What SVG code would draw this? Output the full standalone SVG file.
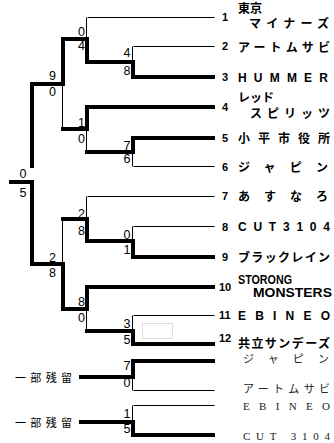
<svg xmlns="http://www.w3.org/2000/svg" width="334" height="443" viewBox="0 0 334 443">
<style>
.tk{stroke:#000;stroke-width:4;fill:none;stroke-linecap:square}
.tn{stroke:#000;stroke-width:1;fill:none}
.sc{font-family:"Liberation Sans",Arial,sans-serif;font-size:12.5px;fill:#000;text-anchor:end}
.no{font-family:"Liberation Sans",Arial,sans-serif;font-size:11px;font-weight:bold;fill:#000}
.nm{font-family:"Liberation Sans","Noto Sans CJK JP",sans-serif;font-size:12px;font-weight:bold;fill:#000}
.sub{font-family:"Liberation Serif","Noto Sans CJK JP",serif;font-size:11px;fill:#222}
.rs{font-family:"Noto Sans CJK JP",sans-serif;font-size:11px;fill:#000}
</style>
<rect width="334" height="443" fill="#fff"/>
<g id="connectors">
<g transform="translate(0.5,0.5)">
<path class="tn" d="M87 17H214"/>
<path class="tn" d="M133 46H214"/>
<path class="tn" d="M133 166H214"/>
<path class="tn" d="M87 196H214"/>
<path class="tn" d="M133 226H214"/>
<path class="tn" d="M133 315H214"/>
<path class="tn" d="M133 390H214"/>
<path class="tn" d="M133 405H214"/>
<path class="tn" d="M132 46V62"/>
<path class="tn" d="M86 17V39"/>
<path class="tn" d="M132 152V166"/>
<path class="tn" d="M86 129V152"/>
<path class="tn" d="M62 84V129"/>
<path class="tn" d="M132 226V241"/>
<path class="tn" d="M86 196V219"/>
<path class="tn" d="M132 315V331"/>
<path class="tn" d="M86 309V331"/>
<path class="tn" d="M62 219V264"/>
<path class="tn" d="M132 377V390"/>
<path class="tn" d="M132 405V422"/>
</g>
<path class="tk" d="M133 77H213"/>
<path class="tk" d="M87 107H213"/>
<path class="tk" d="M133 138H213"/>
<path class="tk" d="M133 257H213"/>
<path class="tk" d="M87 287H213"/>
<path class="tk" d="M133 344H213"/>
<path class="tk" d="M133 62V77"/><path class="tk" d="M87 62H133"/>
<path class="tk" d="M87 39V62"/><path class="tk" d="M63 39H87"/>
<path class="tk" d="M133 138V152"/><path class="tk" d="M87 152H133"/>
<path class="tk" d="M87 107V129"/><path class="tk" d="M63 129H87"/>
<path class="tk" d="M63 39V84"/><path class="tk" d="M32 84H63"/>
<path class="tk" d="M133 241V257"/><path class="tk" d="M87 241H133"/>
<path class="tk" d="M87 219V241"/><path class="tk" d="M63 219H87"/>
<path class="tk" d="M133 331V344"/><path class="tk" d="M87 331H133"/>
<path class="tk" d="M87 287V309"/><path class="tk" d="M63 309H87"/>
<path class="tk" d="M63 264V309"/><path class="tk" d="M32 264H63"/>
<path class="tk" d="M32 84V166"/><path class="tk" d="M32 182V264"/><path class="tk" d="M11 182H32"/>
<path class="tk" d="M133 361H213"/>
<path class="tk" d="M133 361V377"/><path class="tk" d="M81 377H133"/>
<path class="tk" d="M133 435H213"/>
<path class="tk" d="M133 422V435"/><path class="tk" d="M81 422H133"/>
<rect x="142.5" y="323.5" width="30" height="15" fill="none" stroke="#ddd" stroke-width="1"/>
</g>
<g id="scores">
<text class="sc" x="130.5" y="57">4</text><text class="sc" x="130.5" y="75">8</text>
<text class="sc" x="85" y="36">0</text><text class="sc" x="85" y="50">4</text>
<text class="sc" x="56" y="80">9</text><text class="sc" x="56" y="96">0</text>
<text class="sc" x="85" y="127">1</text><text class="sc" x="85" y="143">0</text>
<text class="sc" x="130.5" y="150">7</text><text class="sc" x="130.5" y="163">6</text>
<text class="sc" x="26.5" y="178">0</text><text class="sc" x="26.5" y="197">5</text>
<text class="sc" x="85" y="218">2</text><text class="sc" x="85" y="235">8</text>
<text class="sc" x="130.5" y="239">0</text><text class="sc" x="130.5" y="254">1</text>
<text class="sc" x="56" y="262">2</text><text class="sc" x="56" y="277">8</text>
<text class="sc" x="85" y="306">8</text><text class="sc" x="85" y="322">0</text>
<text class="sc" x="130.5" y="328">3</text><text class="sc" x="130.5" y="344">5</text>
<text class="sc" x="130.5" y="370">7</text><text class="sc" x="130.5" y="387">0</text>
<text class="sc" x="130.5" y="418">1</text><text class="sc" x="130.5" y="433">5</text>
</g>
<g id="team1"><text class="no" x="222" y="21">1</text><text class="nm" x="238" y="13">東京</text><text class="nm" x="249" y="28" textLength="80" lengthAdjust="spacing">マイナーズ</text></g>
<g id="team2"><text class="no" x="222" y="50">2</text><text class="nm" x="238" y="52" textLength="92" lengthAdjust="spacing">アートムサビ</text></g>
<g id="team3"><text class="no" x="222" y="81">3</text><text class="nm" x="238" y="82" textLength="90" lengthAdjust="spacing">HUMMER</text></g>
<g id="team4"><text class="no" x="222" y="111">4</text><text class="nm" x="238" y="102" font-size="11">レッド</text><text class="nm" x="250" y="118" textLength="80" lengthAdjust="spacing">スピリッツ</text></g>
<g id="team5"><text class="no" x="222" y="142">5</text><text class="nm" x="238" y="143" textLength="92" lengthAdjust="spacing">小平市役所</text></g>
<g id="team6"><text class="no" x="222" y="171">6</text><text class="nm" x="238" y="172" textLength="90" lengthAdjust="spacing">ジャピン</text></g>
<g id="team7"><text class="no" x="222" y="200">7</text><text class="nm" x="238" y="201" textLength="90" lengthAdjust="spacing">あすなろ</text></g>
<g id="team8"><text class="no" x="222" y="231">8</text><text class="nm" x="238" y="231" textLength="92" lengthAdjust="spacing">CUT3104</text></g>
<g id="team9"><text class="no" x="222" y="261">9</text><text class="nm" x="238" y="262" textLength="92" lengthAdjust="spacing">ブラックレイン</text></g>
<g id="team10"><text class="no" x="219" y="291" font-size="9">10</text><text class="nm" x="238" y="284" font-size="10.5" textLength="54" lengthAdjust="spacingAndGlyphs">STORONG</text><text class="nm" x="253" y="297" font-size="10.5" textLength="79" lengthAdjust="spacingAndGlyphs">MONSTERS</text></g>
<g id="team11"><text class="no" x="219" y="319" font-size="9">11</text><text class="nm" x="238" y="320" textLength="92" lengthAdjust="spacing">EBINEO</text></g>
<g id="team12"><text class="no" x="219" y="342" font-size="9">12</text><text class="nm" x="238" y="348" textLength="92" lengthAdjust="spacing">共立サンデーズ</text></g>
<g id="lower">
<text class="sub" x="243" y="363" textLength="86" lengthAdjust="spacing">ジャピン</text>
<text class="sub" x="243" y="393" textLength="87" lengthAdjust="spacing">アートムサビ</text>
<text class="sub" x="243" y="410" textLength="87" lengthAdjust="spacing">EBINEO</text>
<text class="sub" x="243" y="440" textLength="87" lengthAdjust="spacing">CUT 3104</text>
<text class="rs" x="15" y="382" textLength="57" lengthAdjust="spacing">一部残留</text>
<text class="rs" x="15" y="427" textLength="57" lengthAdjust="spacing">一部残留</text>
</g>
</svg>
